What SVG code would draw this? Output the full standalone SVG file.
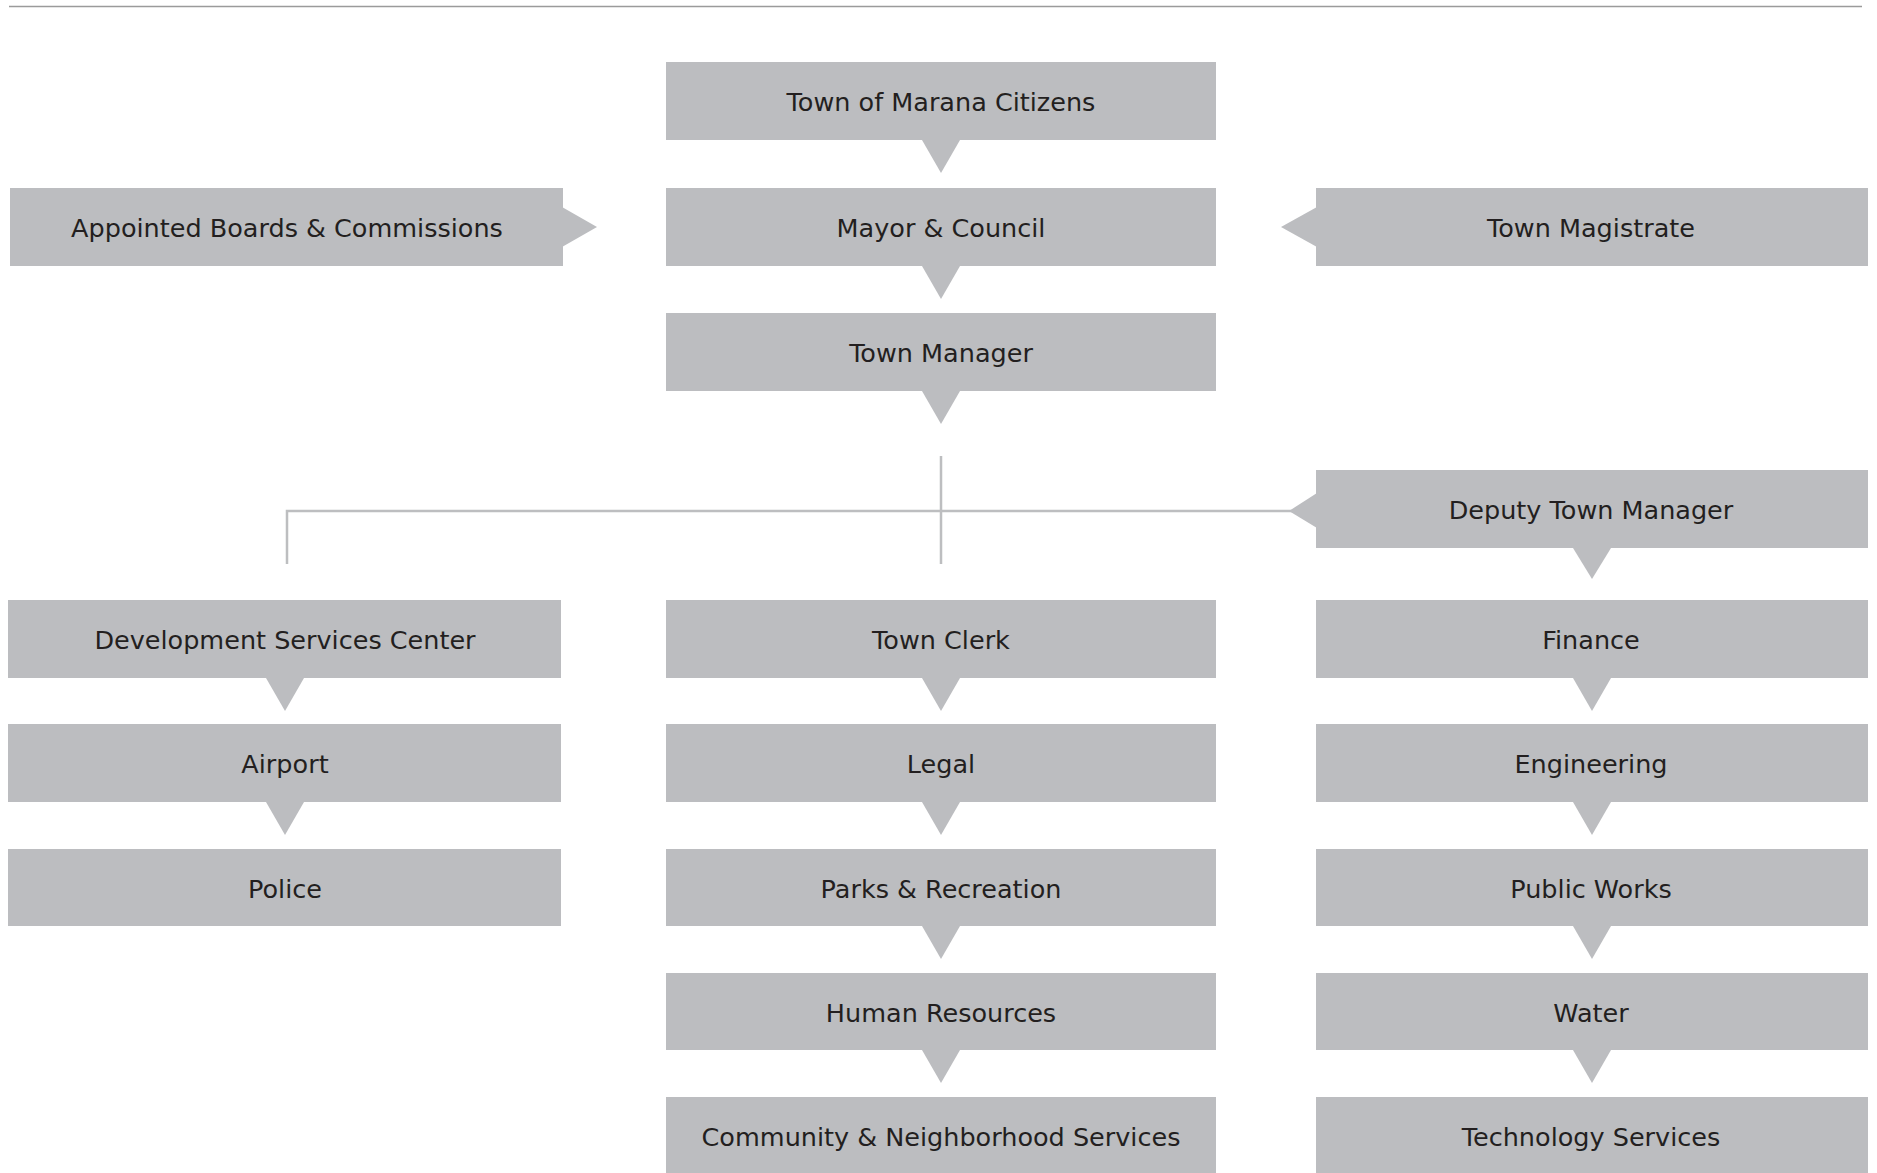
<svg xmlns="http://www.w3.org/2000/svg" width="1877" height="1173" viewBox="0 0 1877 1173">
<style>
.box{fill:#bcbdc0}
.lbl{font-family:"DejaVu Sans",sans-serif;font-size:25.5px;fill:#231f20;text-anchor:middle}
.conn{stroke:#bdbec0;stroke-width:2.5;fill:none}
</style>
<rect width="1877" height="1173" fill="#ffffff"/>
<line x1="9" y1="6.5" x2="1862" y2="6.5" stroke="#9b9b9b" stroke-width="1.5"/>
<g id="connectors">
<path class="conn" d="M941 456 V564 M287 564 V511 H1292"/>
</g>
<g id="citizens"><rect class="box" x="666" y="62" width="550" height="78"/><polygon class="box" points="922,140 960,140 941,173"/><text class="lbl" x="941" y="111">Town of Marana Citizens</text></g>
<g id="mayor"><rect class="box" x="666" y="188" width="550" height="78"/><polygon class="box" points="922,266 960,266 941,299"/><text class="lbl" x="941" y="237">Mayor &amp; Council</text></g>
<g id="manager"><rect class="box" x="666" y="313" width="550" height="78"/><polygon class="box" points="922,391 960,391 941,424"/><text class="lbl" x="941" y="362">Town Manager</text></g>
<g id="boards"><rect class="box" x="10" y="188" width="553" height="78"/><polygon class="box" points="562,207 562,247 597,227"/><text class="lbl" x="287" y="237">Appointed Boards &amp; Commissions</text></g>
<g id="magistrate"><rect class="box" x="1316" y="188" width="552" height="78"/><polygon class="box" points="1317,207 1317,247 1281,227"/><text class="lbl" x="1591" y="237">Town Magistrate</text></g>
<g id="deputy"><rect class="box" x="1316" y="470" width="552" height="78"/><polygon class="box" points="1317,493 1317,528 1289,511"/><polygon class="box" points="1573,548 1611,548 1592,579"/><text class="lbl" x="1591" y="519">Deputy Town Manager</text></g>
<g id="devservices"><rect class="box" x="8" y="600" width="553" height="78"/><polygon class="box" points="266,678 304,678 285,711"/><text class="lbl" x="285" y="649">Development Services Center</text></g>
<g id="airport"><rect class="box" x="8" y="724" width="553" height="78"/><polygon class="box" points="266,802 304,802 285,835"/><text class="lbl" x="285" y="773">Airport</text></g>
<g id="police"><rect class="box" x="8" y="849" width="553" height="77"/><text class="lbl" x="285" y="898">Police</text></g>
<g id="clerk"><rect class="box" x="666" y="600" width="550" height="78"/><polygon class="box" points="922,678 960,678 941,711"/><text class="lbl" x="941" y="649">Town Clerk</text></g>
<g id="legal"><rect class="box" x="666" y="724" width="550" height="78"/><polygon class="box" points="922,802 960,802 941,835"/><text class="lbl" x="941" y="773">Legal</text></g>
<g id="parks"><rect class="box" x="666" y="849" width="550" height="77"/><polygon class="box" points="922,926 960,926 941,959"/><text class="lbl" x="941" y="898">Parks &amp; Recreation</text></g>
<g id="hr"><rect class="box" x="666" y="973" width="550" height="77"/><polygon class="box" points="922,1050 960,1050 941,1083"/><text class="lbl" x="941" y="1022">Human Resources</text></g>
<g id="community"><rect class="box" x="666" y="1097" width="550" height="78"/><text class="lbl" x="941" y="1146">Community &amp; Neighborhood Services</text></g>
<g id="finance"><rect class="box" x="1316" y="600" width="552" height="78"/><polygon class="box" points="1573,678 1611,678 1592,711"/><text class="lbl" x="1591" y="649">Finance</text></g>
<g id="engineering"><rect class="box" x="1316" y="724" width="552" height="78"/><polygon class="box" points="1573,802 1611,802 1592,835"/><text class="lbl" x="1591" y="773">Engineering</text></g>
<g id="publicworks"><rect class="box" x="1316" y="849" width="552" height="77"/><polygon class="box" points="1573,926 1611,926 1592,959"/><text class="lbl" x="1591" y="898">Public Works</text></g>
<g id="water"><rect class="box" x="1316" y="973" width="552" height="77"/><polygon class="box" points="1573,1050 1611,1050 1592,1083"/><text class="lbl" x="1591" y="1022">Water</text></g>
<g id="technology"><rect class="box" x="1316" y="1097" width="552" height="78"/><text class="lbl" x="1591" y="1146">Technology Services</text></g>
</svg>
